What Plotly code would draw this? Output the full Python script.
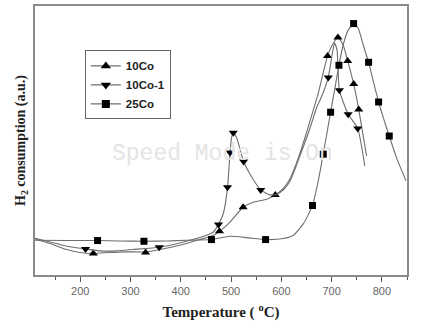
import plotly.graph_objects as go

# ---- data (temperature in °C, H2 consumption in arbitrary units) ----
t_10co = [110, 140, 173, 199, 226, 259, 292, 330, 358.5, 398, 438, 465, 477, 498, 524, 544, 571, 588,
          604, 617, 634, 647, 660, 673.5, 692, 703, 712.6, 723, 732, 744, 754, 769.6]
v_10co = [36.3, 31.7, 25.7, 22.7, 21.7, 22.7, 23.3, 23.3, 25.7, 30, 35.7, 40, 44, 53.3, 68.3, 73.3, 76.3, 80.7,
          87.3, 96.7, 118.3, 138.3, 160, 183.3, 220.7, 233.3, 239.3, 231.7, 215.7, 192.3, 166.7, 120]
mt_10co = [226, 330, 477, 524, 588, 692, 712.6, 732, 744, 754]
mv_10co = [21.7, 22.7, 44, 68.3, 80.7, 220.7, 239.3, 215.7, 192.3, 166.7]

t_10co1 = [110, 140, 173, 210.6, 239, 272, 305, 357, 398, 438, 465, 475, 484.5, 493, 498, 501, 504.4, 511,
           525, 537.5, 559, 577, 591, 607, 620, 637, 654, 670, 683, 693.4, 701, 706, 711, 715.5, 733, 752, 766]
v_10co1 = [37, 33.3, 29, 26.3, 24.3, 24.3, 25.7, 28, 32.3, 37.7, 43.3, 51, 61.7, 88.3, 123.3, 138.3, 143.3, 138.3,
           114.3, 101.7, 85.7, 80.7, 81, 87.3, 97.3, 120, 143.3, 168.3, 183.3, 199, 222, 234, 226, 186, 162, 147.7, 110]
mt_10co1 = [210.6, 357, 475, 493, 498, 504.4, 525, 559, 693.4, 715.5, 733, 752]
mv_10co1 = [26.3, 28, 51, 88.3, 123.3, 143.3, 114.3, 85.7, 199, 186, 162, 147.7]

t_25co = [110, 173, 234.5, 279, 326.7, 372, 411.5, 461, 498, 531, 568.7, 604, 624, 644, 662, 673.5, 683.4,
          698, 706.6, 714.6, 723, 733, 743.8, 753, 763, 773.6, 783, 793.5, 803, 814.7, 829, 848]
v_25co = [35, 34.7, 34.7, 34.3, 34, 34.3, 35, 35.7, 39, 37.7, 35.7, 36.7, 40, 51.7, 70, 95, 121.7,
          164, 188.3, 211.3, 231.7, 246.7, 253.3, 248.3, 231.7, 214.3, 195, 174.3, 158.3, 140, 118.3, 95]
mt_25co = [234.5, 326.7, 461, 568.7, 662, 683.4, 698, 714.6, 743.8, 773.6, 793.5, 814.7]
mv_25co = [34.7, 34, 35.7, 35.7, 70, 121.7, 164, 211.3, 253.3, 214.3, 174.3, 140]

series = [
    ("10Co", t_10co, v_10co, mt_10co, mv_10co, "triangle-up", 8),
    ("10Co-1", t_10co1, v_10co1, mt_10co1, mv_10co1, "triangle-down", 8),
    ("25Co", t_25co, v_25co, mt_25co, mv_25co, "square", 7),
]

LINE = "#6e6e6e"
fig = go.Figure()
for name, t, v, mt, mv, sym, sz in series:
    fig.add_trace(go.Scatter(x=t, y=v, mode="lines", line=dict(color=LINE, width=1.1, shape="spline", smoothing=0.5),
                             showlegend=False, hoverinfo="skip"))
    fig.add_trace(go.Scatter(x=mt, y=mv, mode="markers", marker=dict(symbol=sym, size=sz, color="black"),
                             showlegend=False))
    # legend entry: line + marker
    fig.add_trace(go.Scatter(x=[None], y=[None], mode="lines+markers", name="<b>" + name + "</b>",
                             line=dict(color=LINE, width=1.1),
                             marker=dict(symbol=sym, size=sz + 1, color="black")))

fig.add_annotation(text="Speed Mode is On", x=0.503, y=0.45, xref="paper", yref="paper", showarrow=False,
                   font=dict(family="Liberation Mono, DejaVu Sans Mono, monospace", size=23, color="#e4e4e4"))

frame = dict(showline=True, linecolor="#8a8a8a", linewidth=1.5, mirror=True, showgrid=False, zeroline=False)
fig.update_layout(
    width=432, height=329,
    margin=dict(l=35, r=25, t=4, b=54),
    paper_bgcolor="white", plot_bgcolor="white",
    xaxis=dict(range=[110, 850], tickmode="linear", tick0=200, dtick=100, ticks="outside", ticklen=5,
               tickcolor="#555", tickfont=dict(family="Liberation Sans, Arial", size=11, color="#666"),
               minor=dict(ticks="outside", ticklen=3, dtick=50, tick0=150, tickcolor="#555"),
               title=dict(text="<b>Temperature ( <sup>o</sup>C)</b>", standoff=11,
                          font=dict(family="Liberation Serif, Times New Roman", size=15, color="#222")),
               **frame),
    yaxis=dict(range=[0, 271], showticklabels=False, ticks="",
               title=dict(text="<b>H<sub>2</sub> consumption (a.u.)</b>", standoff=4,
                          font=dict(family="Liberation Serif, Times New Roman", size=14, color="#222")),
               **frame),
    legend=dict(x=0.134, y=0.835, xanchor="left", yanchor="top", bordercolor="#666", borderwidth=1,
                bgcolor="white", font=dict(family="Liberation Sans, Arial", size=11.5, color="#222"),
                tracegroupgap=0, itemwidth=30),
    font=dict(family="Liberation Sans, Arial"),
)
fig.write_html("out.html")
